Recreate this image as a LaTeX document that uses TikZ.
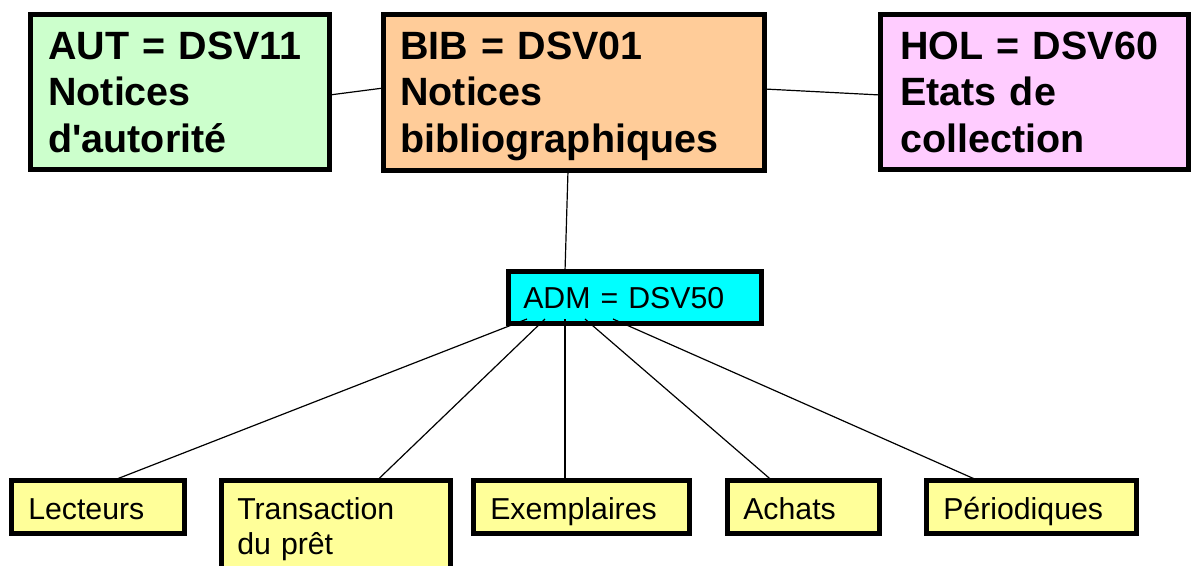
\documentclass[tikz,border=0pt]{standalone}
\usepackage{fontspec}
\setmainfont{Liberation Sans}[Ligatures=TeXOff]
\usetikzlibrary{calc}
\definecolor{autfill}{HTML}{CCFFCC}
\definecolor{bibfill}{HTML}{FFCC99}
\definecolor{holfill}{HTML}{FFCCFF}
\definecolor{admfill}{HTML}{00FFFF}
\definecolor{subfill}{HTML}{FFFF99}
\tikzset{
  box/.style={draw=black, line width=3.75pt, rectangle, inner sep=0pt, outer sep=0pt},
  bigtxt/.style={inner sep=0pt, anchor=base west, text width=300pt, align=left,
    font=\fontsize{29.6}{34.9}\selectfont\bfseries},
  smalltxt/.style={inner sep=0pt, anchor=base west, text width=200pt, align=left,
    font=\fontsize{22.7}{26.3}\selectfont},
  link/.style={draw=black, line width=0.9pt}
}
\begin{document}
\begin{tikzpicture}[x=0.75pt,y=-0.75pt]
\useasboundingbox (0,0) rectangle (1192,565);
\clip (0,0) rectangle (1192,565);
\fill[white] (0,0) rectangle (1192,565);

% top boxes
\node[box, fill=autfill, minimum width={299*0.75pt}, minimum height={155*0.75pt}] (aut) at (180,92) {};
\node[box, fill=bibfill, minimum width={381*0.75pt}, minimum height={156*0.75pt}] (bib) at (574,92.5) {};
\node[box, fill=holfill, minimum width={308*0.75pt}, minimum height={155*0.75pt}] (hol) at (1034.5,92) {};
% middle
\node[box, fill=admfill, minimum width={253*0.75pt}, minimum height={52*0.75pt}] (adm) at (635,297.5) {};
% bottom
\node[box, fill=subfill, minimum width={173*0.75pt}, minimum height={53*0.75pt}] (lect) at (98,507) {};
\node[box, fill=subfill, minimum width={229*0.75pt}, minimum height={117*0.75pt}] (trans) at (336,539) {};
\node[box, fill=subfill, minimum width={216*0.75pt}, minimum height={53*0.75pt}] (exem) at (581.5,507) {};
\node[box, fill=subfill, minimum width={152*0.75pt}, minimum height={53*0.75pt}] (ach) at (803.5,507) {};
\node[box, fill=subfill, minimum width={210*0.75pt}, minimum height={53*0.75pt}] (per) at (1031.5,507) {};

% texts
\node[bigtxt] (autt) at (48,59) {AUT = DSV11\\Notices\\d'autorité};
\node[bigtxt] (bibt) at (400,59) {BIB = DSV01\\Notices\\bibliographiques};
\node[bigtxt] (holt) at (900,59) {HOL = DSV60\\Etats de\\collection};
\node[smalltxt] (admt) at (523,308) {ADM = DSV50};
\node[smalltxt] (lectt) at (28,519) {Lecteurs};
\node[smalltxt] (transt) at (237,519) {Transaction\\du prêt};
\node[smalltxt] (exemt) at (490,519) {Exemplaires};
\node[smalltxt] (acht) at (743,519) {Achats};
\node[smalltxt] (pert) at (943,519) {Périodiques};

% connectors
\draw[link] ($(aut.east)+(0,3)$) -- ($(bib.west)+(0,-4.5)$);
\draw[link] ($(bib.east)+(0,-3.5)$) -- ($(hol.west)+(0,3)$);
\draw[link] ($(bib.south)+(-6,0)$) -- ($(adm.north)+(-70,0)$);
\draw[link] ($(adm.south)+(-108,-4.5)$) -- ($(lect.north)+(15,0)$);
\draw[link] ($(adm.south)+(-90,-4.5)$) -- ($(trans.north)+(41,0)$);
\draw[link] ($(adm.south)+(-70,-4.5)$) -- ($(exem.north)+(-16.5,0)$);
\draw[link] ($(adm.south)+(-50,-4.5)$) -- ($(ach.north)+(-31.5,0)$);
\draw[link] ($(adm.south)+(-22,-4.5)$) -- ($(per.north)+(-53.5,0)$);
\end{tikzpicture}
\end{document}
